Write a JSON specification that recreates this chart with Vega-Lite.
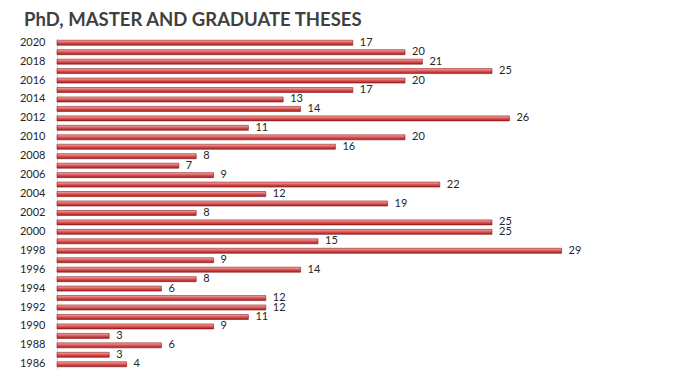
{
  "$schema": "https://vega.github.io/schema/vega-lite/v6.json",
  "autosize": "none",
  "width": 522,
  "height": 331,
  "padding": {"left": 57, "top": 38, "right": 94, "bottom": 7},
  "background": "white",
  "title": {
    "text": "PhD, MASTER AND GRADUATE THESES",
    "anchor": "start",
    "frame": "group",
    "dx": -33,
    "offset": 7,
    "font": "Lato",
    "fontSize": 18.5,
    "fontWeight": "bold",
    "color": "#404040"
  },
  "config": {"view": {"stroke": null}},
  "data": {"values": [
    {"year": 2020, "value": 17}, {"year": 2019, "value": 20}, {"year": 2018, "value": 21},
    {"year": 2017, "value": 25}, {"year": 2016, "value": 20}, {"year": 2015, "value": 17},
    {"year": 2014, "value": 13}, {"year": 2013, "value": 14}, {"year": 2012, "value": 26},
    {"year": 2011, "value": 11}, {"year": 2010, "value": 20}, {"year": 2009, "value": 16},
    {"year": 2008, "value": 8}, {"year": 2007, "value": 7}, {"year": 2006, "value": 9},
    {"year": 2005, "value": 22}, {"year": 2004, "value": 12}, {"year": 2003, "value": 19},
    {"year": 2002, "value": 8}, {"year": 2001, "value": 25}, {"year": 2000, "value": 25},
    {"year": 1999, "value": 15}, {"year": 1998, "value": 29}, {"year": 1997, "value": 9},
    {"year": 1996, "value": 14}, {"year": 1995, "value": 8}, {"year": 1994, "value": 6},
    {"year": 1993, "value": 12}, {"year": 1992, "value": 12}, {"year": 1991, "value": 11},
    {"year": 1990, "value": 9}, {"year": 1989, "value": 3}, {"year": 1988, "value": 6},
    {"year": 1987, "value": 3}, {"year": 1986, "value": 4}
  ]},
  "encoding": {
    "y": {
      "field": "year", "type": "ordinal", "sort": "descending",
      "axis": {
        "title": null, "ticks": false, "domainColor": "#d9d9d9",
        "labelExpr": "datum.value % 2 == 0 ? datum.label : ''",
        "labelFont": "Lato", "labelFontSize": 11, "labelColor": "#262626",
        "labelPadding": 12
      }
    },
    "x": {
      "field": "value", "type": "quantitative",
      "scale": {"domain": [0, 30], "nice": false},
      "axis": null
    }
  },
  "layer": [
    {
      "mark": {
        "type": "bar", "size": 5, "stroke": "#8b1a1a", "strokeWidth": 0.6,
        "color": {
          "gradient": "linear", "x1": 0, "y1": 0, "x2": 0, "y2": 1,
          "stops": [
            {"offset": 0, "color": "#f6b0b0"},
            {"offset": 0.45, "color": "#e05a5a"},
            {"offset": 1, "color": "#9e1f1f"}
          ]
        }
      }
    },
    {
      "mark": {"type": "text", "align": "left", "dx": 7, "font": "Lato", "fontSize": 11, "color": "#262626"},
      "encoding": {"text": {"field": "value", "type": "quantitative"}}
    }
  ]
}
